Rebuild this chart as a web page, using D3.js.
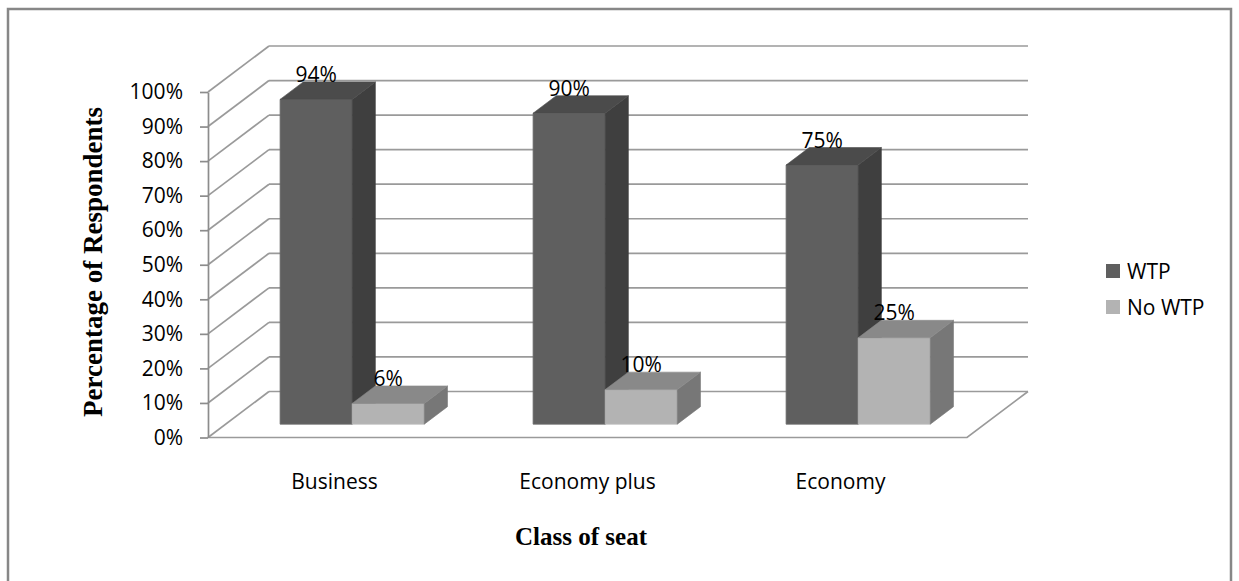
<!DOCTYPE html>
<html>
<head>
<meta charset="utf-8">
<script src="https://cdn.jsdelivr.net/npm/d3@7"></script>
<style>
  html, body { margin: 0; padding: 0; background: #fff; }
  svg { display: block; font-family: "Open Sans", "Liberation Sans", sans-serif; }
</style>
</head>
<body>
<svg id="chart" width="1239" height="581"></svg>
<script>
// Willingness to pay by class of seat
const categories = ["Business", "Economy plus", "Economy"];
const seriesNames = ["WTP", "No WTP"];
const wtpValues = [0.94, 0.90, 0.75];
const noWtpValues = [0.06, 0.10, 0.25];
const tickValues = [0, 0.1, 0.2, 0.3, 0.4, 0.5, 0.6, 0.7, 0.8, 0.9, 1.0];
const yTitle = "Percentage of Respondents";
const xTitle = "Class of seat";

const seriesValues = [wtpValues, noWtpValues];

// faces: front, side, top
const palette = {
  "WTP":    { front: "#5f5f5f", side: "#3f3f3f", top: "#4b4b4b", edge: "#6c6c6c" },
  "No WTP": { front: "#b3b3b3", side: "#777777", top: "#898989", edge: "#bdbdbd" }
};

const sansFont = "'Open Sans', 'Liberation Sans', sans-serif";
const serifFont = "'Liberation Serif', 'Times New Roman', serif";

const svg = d3.select("#chart");

// Oblique projection of the 3D box: depth 0 = front plane, 1 = back wall
const depthDX = 61, depthDY = -46;
const front = { left: 208, right: 967, bottom: 437.5, top: 92 };

const y = d3.scaleLinear().domain([0, 1]).range([front.bottom, front.top]);
const x0 = d3.scaleBand().domain(categories).range([front.left, front.right])
  .paddingInner(0.43).paddingOuter(0.215);
const x1 = d3.scaleBand().domain(seriesNames).range([0, x0.bandwidth()]);

const proj = (px, v, d) => [px + d * depthDX, y(v) + d * depthDY];

// outer frame
svg.append("rect")
  .attr("x", 8).attr("y", 9).attr("width", 1223).attr("height", 620)
  .attr("fill", "none").attr("stroke", "#878787").attr("stroke-width", 2.5);

const gridColor = "#9a9a9a";
const grid = svg.append("g").attr("stroke", gridColor).attr("stroke-width", 1.7).attr("fill", "none");

// back wall gridlines and left side wall lines
tickValues.forEach(v => {
  const a = proj(front.left, v, 1), b = proj(front.right, v, 1), f = proj(front.left, v, 0);
  grid.append("line").attr("x1", a[0]).attr("y1", a[1]).attr("x2", b[0]).attr("y2", b[1]);
  grid.append("line").attr("x1", f[0]).attr("y1", f[1]).attr("x2", a[0]).attr("y2", a[1]);
});

// floor outline
const floorPts = [proj(front.left, 0, 0), proj(front.right, 0, 0), proj(front.right, 0, 1)];
grid.append("polyline").attr("points", floorPts.map(p => p.join(",")).join(" "));

// value axis
const yAxis = d3.axisLeft(y).tickValues(tickValues).tickFormat(d3.format(".0%"))
  .tickSize(8).tickSizeOuter(0).tickPadding(17);
const gy = svg.append("g").attr("transform", `translate(${front.left},0)`).call(yAxis);
gy.attr("font-family", sansFont).attr("font-size", 21);
gy.selectAll("path, line").attr("stroke", "#8c8c8c").attr("stroke-width", 1.7);
gy.selectAll("text").attr("fill", "#000");

// bars
const d0 = 0.29, d1 = 0.67;
const bars = [];
categories.forEach((c, ci) => {
  seriesNames.forEach((s, si) => {
    bars.push({ cat: c, series: s, value: seriesValues[si][ci] });
  });
});

const poly = pts => pts.map(p => p.join(",")).join(" ");
const gb = svg.append("g");
bars.forEach(b => {
  const col = palette[b.series];
  const xl = x0(b.cat) + x1(b.series), xr = xl + x1.bandwidth();
  const fl0 = proj(xl, 0, d0), fr0 = proj(xr, 0, d0), fl1 = proj(xl, b.value, d0), fr1 = proj(xr, b.value, d0);
  const br0 = proj(xr, 0, d1), br1 = proj(xr, b.value, d1), bl1 = proj(xl, b.value, d1);
  // front face
  gb.append("polygon").attr("points", poly([fl0, fr0, fr1, fl1]))
    .attr("fill", col.front).attr("stroke", col.edge).attr("stroke-width", 0.8);
  // right side face
  gb.append("polygon").attr("points", poly([fr0, br0, br1, fr1]))
    .attr("fill", col.side).attr("stroke", col.side).attr("stroke-width", 0.6);
  // top face
  gb.append("polygon").attr("points", poly([fl1, fr1, br1, bl1]))
    .attr("fill", col.top).attr("stroke", col.top).attr("stroke-width", 0.6);
});

// value labels, sitting on the back edge of each bar top
const gl = svg.append("g").attr("font-family", sansFont).attr("font-size", 21);
bars.forEach(b => {
  const xc = x0(b.cat) + x1(b.series) + x1.bandwidth() / 2;
  const p = proj(xc, b.value, d0);
  const q = proj(xc, b.value, d1);
  gl.append("text")
    .attr("x", p[0]).attr("y", q[1])
    .attr("text-anchor", "middle").attr("fill", "#000")
    .text(d3.format(".0%")(b.value));
});

// category labels
const xAxis = d3.axisBottom(x0).tickSize(0).tickPadding(0);
const gx = svg.append("g").attr("transform", `translate(0,${front.bottom})`).call(xAxis);
gx.attr("font-family", sansFont).attr("font-size", 21);
gx.select(".domain").remove();
gx.selectAll("text").attr("dy", null).attr("y", 51).attr("fill", "#000");

// axis titles
svg.append("text")
  .attr("x", 581).attr("y", 545)
  .attr("text-anchor", "middle")
  .attr("font-family", serifFont)
  .attr("font-weight", "bold").attr("font-size", 25)
  .text(xTitle);

svg.append("text")
  .attr("transform", `translate(102,262) rotate(-90)`)
  .attr("text-anchor", "middle")
  .attr("font-family", serifFont)
  .attr("font-weight", "bold").attr("font-size", 27)
  .text(yTitle);

// legend
const legend = svg.append("g").attr("transform", "translate(1106,264)")
  .attr("font-family", sansFont).attr("font-size", 21);
seriesNames.forEach((s, i) => {
  const row = legend.append("g").attr("transform", `translate(0,${i * 36})`);
  row.append("rect").attr("width", 14).attr("height", 14).attr("fill", palette[s].front);
  row.append("text").attr("x", 21).attr("y", 14.5).attr("fill", "#000").text(s);
});
</script>
</body>
</html>
